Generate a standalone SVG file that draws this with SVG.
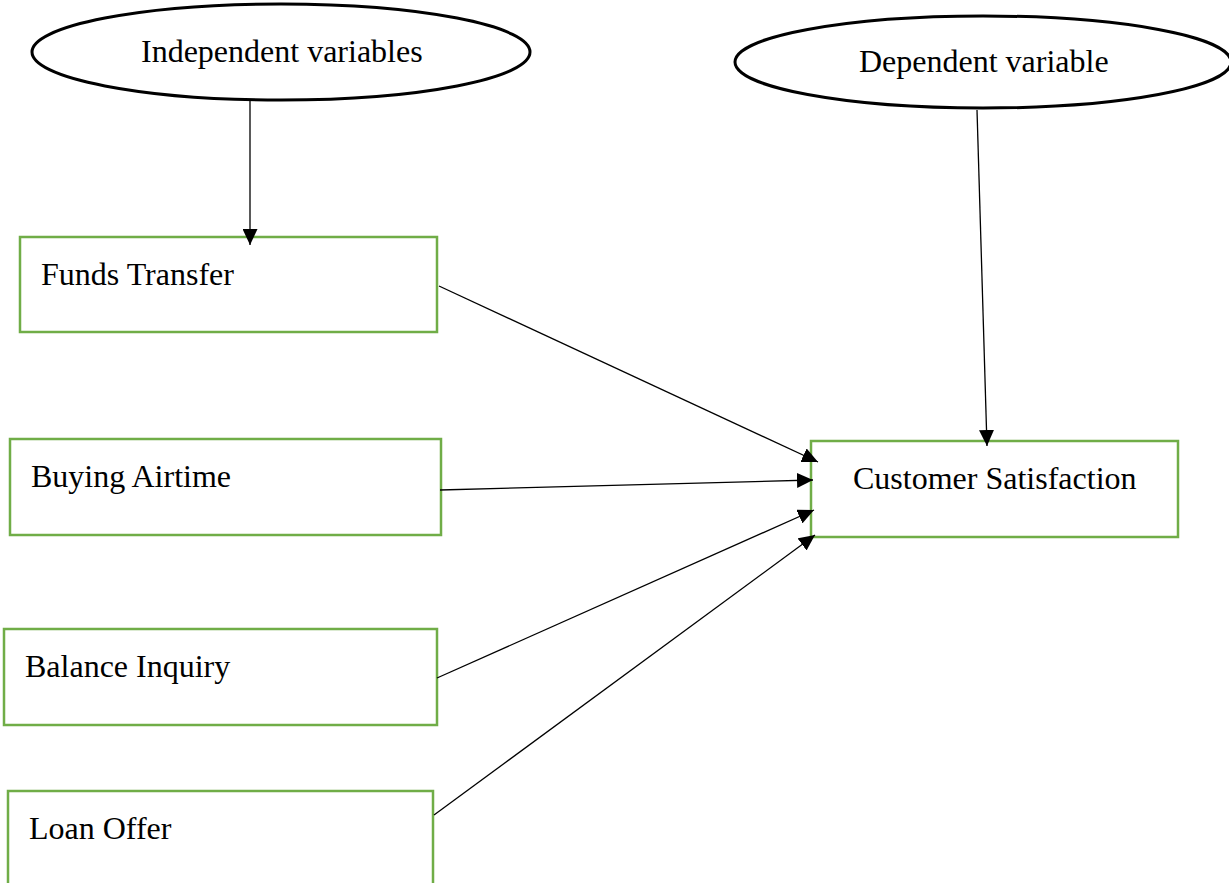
<svg xmlns="http://www.w3.org/2000/svg" width="1229" height="883" viewBox="0 0 1229 883">
<style>
.t{font-family:"Liberation Serif","Times New Roman",serif;font-size:32px;fill:#000}
.box{fill:#fff;stroke:#70AD47;stroke-width:2.5}
.ell{fill:#fff;stroke:#000;stroke-width:3}
.c{stroke:#000;stroke-width:1.3;fill:none;marker-end:url(#ah)}
</style>
<defs>
<marker id="ah" markerUnits="userSpaceOnUse" markerWidth="17" markerHeight="15" refX="16" refY="7.5" orient="auto">
<path d="M0,0 L16,7.5 L0,15 Z" fill="#000"/>
</marker>
</defs>
<rect width="1229" height="883" fill="#fff"/>
<g id="independent">
<ellipse class="ell" cx="281" cy="52" rx="249" ry="48"/>
<text class="t" x="141" y="62">Independent variables</text>
</g>
<g id="dependent">
<ellipse class="ell" cx="983" cy="62" rx="248" ry="46"/>
<text class="t" x="859" y="72">Dependent variable</text>
</g>
<g id="funds">
<rect class="box" x="20" y="237" width="417" height="95"/>
<text class="t" x="41" y="285">Funds Transfer</text>
</g>
<g id="airtime">
<rect class="box" x="10" y="439" width="431" height="96"/>
<text class="t" x="31" y="487">Buying Airtime</text>
</g>
<g id="balance">
<rect class="box" x="4" y="629" width="433" height="96"/>
<text class="t" x="25" y="677">Balance Inquiry</text>
</g>
<g id="loan">
<rect class="box" x="8" y="791" width="425" height="110"/>
<text class="t" x="29" y="839">Loan Offer</text>
</g>
<g id="satisfaction">
<rect class="box" x="811" y="441" width="367" height="96"/>
<text class="t" x="853" y="489">Customer Satisfaction</text>
</g>
<g id="connectors">
<line class="c" x1="250" y1="100" x2="250" y2="245"/>
<line class="c" x1="977" y1="110" x2="987" y2="446"/>
<line class="c" x1="439" y1="286" x2="818" y2="462"/>
<line class="c" x1="440" y1="490" x2="813" y2="480"/>
<line class="c" x1="437" y1="678" x2="814" y2="510"/>
<line class="c" x1="434" y1="815" x2="815" y2="535"/>
</g>
</svg>
